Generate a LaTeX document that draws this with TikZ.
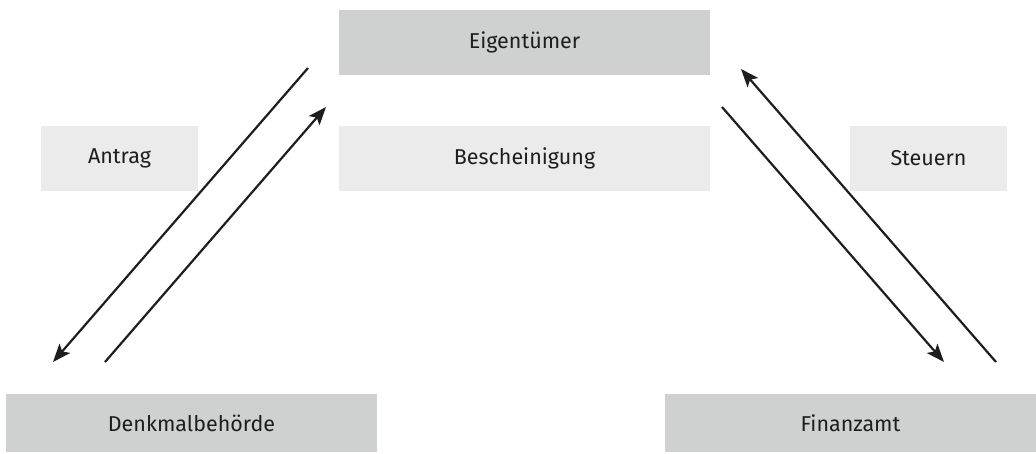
\documentclass[tikz,border=0pt]{standalone}
\usepackage{fontspec}
\setmainfont{Fira Sans}
\usetikzlibrary{arrows.meta,positioning}
\definecolor{boxdark}{HTML}{CFD0D0}
\definecolor{boxlight}{HTML}{EBEBEB}
\definecolor{ink}{HTML}{1E1E1E}
\tikzset{party/.style={fill=boxdark,inner sep=0pt,minimum width=371pt,text=ink,font=\fontsize{21.5}{25}\selectfont}}
\tikzset{note/.style={fill=boxlight,inner sep=0pt,minimum height=65pt,text=ink,font=\fontsize{21.5}{25}\selectfont}}
\tikzset{flow/.style={-{Stealth[length=18pt,width=14pt,inset=4pt]},line width=2.2pt,ink}}
\begin{document}
\begin{tikzpicture}[x=1pt,y=-1pt]
% \draw[help lines] (0,0) grid (1036,453);
\useasboundingbox (0,0) rectangle (1036,453);
\node (eig) [party,minimum height=65pt] at (524.5,42.5) {Eigentümer};
\node (antrag) [note,minimum width=157pt] at (119.5,158.5) {Antrag};
\node (besch) [note,minimum width=371pt] at (524.5,158.5) {Bescheinigung};
\node (steuern) [note,minimum width=157pt] at (928.5,158.5) {Steuern};
\node (denkmal) [party,minimum height=58pt] at (191.5,423) {Denkmalbehörde};
\node (finanz) [party,minimum height=58pt] at (850.5,423) {Finanzamt};
%
\coordinate (a1) at (308,68);  \coordinate (a2) at (53,362);
\coordinate (b1) at (105,362); \coordinate (b2) at (326,107);
\coordinate (c1) at (722,107); \coordinate (c2) at (944,362);
\coordinate (d1) at (996,362); \coordinate (d2) at (741,69);
%
\path[flow](a1) edge (a2);
\path[flow](b1) edge (b2);
\path[flow](c1) edge (c2);
\path[flow](d1) edge (d2);
%
\end{tikzpicture}
\end{document}
